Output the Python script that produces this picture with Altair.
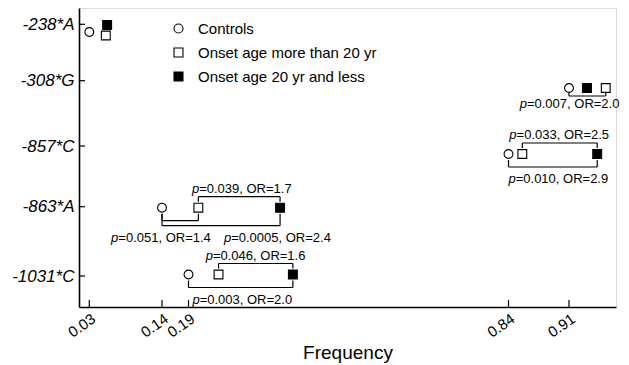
import json
import altair as alt
import pandas as pd

# ---------------- data ----------------
snps = ["-238*A", "-308*G", "-857*C", "-863*A", "-1031*C"]
groups = ["Controls", "Onset age more than 20 yr", "Onset age 20 yr and less"]

controls = [0.03, 0.91, 0.84, 0.14, 0.19]
onset_over20 = [0.055, 0.953, 0.856, 0.21, 0.251]
onset_under20 = [0.057, 0.931, 0.943, 0.376, 0.402]

tick_values = [0.03, 0.14, 0.19, 0.84, 0.91]

# pairwise comparisons drawn as brackets
cmp_snp = ["-308*G", "-857*C", "-857*C", "-863*A", "-863*A", "-863*A", "-1031*C", "-1031*C"]
cmp_from = ["Controls", "Onset age more than 20 yr", "Controls",
            "Onset age more than 20 yr", "Controls", "Controls",
            "Onset age more than 20 yr", "Controls"]
cmp_to = ["Onset age more than 20 yr", "Onset age 20 yr and less", "Onset age 20 yr and less",
          "Onset age 20 yr and less", "Onset age more than 20 yr", "Onset age 20 yr and less",
          "Onset age 20 yr and less", "Onset age 20 yr and less"]
cmp_p = ["0.007", "0.033", "0.010", "0.039", "0.051", "0.0005", "0.046", "0.003"]
cmp_or = ["2.0", "2.5", "2.9", "1.7", "1.4", "2.4", "1.6", "2.0"]
cmp_side = ["near", "above", "below", "above", "below", "below2", "above", "below"]
cmp_label_side = ["near", "above", "below", "above", "below2", "below2", "above", "below"]
cmp_label_at = [0.853, 0.841, 0.84, 0.197, 0.063, 0.262, 0.225, 0.198]

# ---------------- tables ----------------
freqs = {groups[0]: controls, groups[1]: onset_over20, groups[2]: onset_under20}
points = pd.DataFrame(
    [{"row": i, "group": g, "freq": freqs[g][i]} for i, s in enumerate(snps) for g in groups]
)

def f_of(snp, g):
    return freqs[g][snps.index(snp)]

brackets = pd.DataFrame({
    "row": [snps.index(s) for s in cmp_snp],
    "a": [f_of(s, g) for s, g in zip(cmp_snp, cmp_from)],
    "b": [f_of(s, g) for s, g in zip(cmp_snp, cmp_to)],
    "side": cmp_side,
})
ends = pd.concat([
    brackets[["row", "a", "side"]].rename(columns={"a": "end"}),
    brackets[["row", "b", "side"]].rename(columns={"b": "end"}),
])
labels = pd.DataFrame({
    "row": [snps.index(s) for s in cmp_snp],
    "rest": ["=" + p + ", OR=" + o for p, o in zip(cmp_p, cmp_or)],
    "at": cmp_label_at,
    "side": cmp_label_side,
})
ticks_df = pd.DataFrame({"v": tick_values})
rows_df = pd.DataFrame({"row": list(range(len(snps)))})

# ---------------- scales / axes ----------------
W, H = 537, 299
FONT = "Liberation Sans"

x_scale = alt.Scale(domain=[0.0, 0.03, 0.14, 0.19, 0.84, 0.91, 0.965],
                    range=[0, 10.3, 83, 109.5, 429.5, 490, 537], nice=False, zero=False)
y_scale = alt.Scale(domain=[-0.4, 0, 1, 2, 3, 4, 4.5],
                    range=[0, 22, 80, 146, 199.7, 266.5, 299], nice=False, zero=False)

x_axis = alt.Axis(values=tick_values, format=".2f", title="Frequency", grid=False,
                  ticks=False, labelAngle=-35, labelAlign="right", labelBaseline="top",
                  labelFontSize=15, labelPadding=4, labelOverlap=False, labelFont=FONT,
                  labelColor="black", titleFont=FONT, titleFontSize=19,
                  titleFontWeight="normal", titleColor="black", titleY=45,
                  titleBaseline="middle",
                  domainColor="black", domainWidth=1.6)
# the row labels / ticks sit a little off the marker rows in the original drawing
label_shift = [-5.7, -7.3, -8, -1, 1.5]
y_axis = alt.Axis(title=None, grid=False, ticks=False, labelFontSize=17,
                  values=list(range(len(snps))),
                  labelExpr=json.dumps(snps) + "[datum.value]",
                  labelOffset={"condition": [{"test": "datum.value == %d" % i, "value": v}
                                             for i, v in enumerate(label_shift)],
                               "value": 0},
                  labelFontStyle="italic", labelFont=FONT, labelColor="black",
                  labelPadding=5, domainColor="black", domainWidth=1.6)

def X(field):
    return alt.X(field, type="quantitative", scale=x_scale, axis=x_axis, title="Frequency")

def Y(field="row"):
    return alt.Y(field, type="quantitative", scale=y_scale, axis=y_axis, title=None)

legend = alt.Legend(orient="none", legendX=92, legendY=13, title=None, padding=0,
                    labelFontSize=15, labelFont=FONT, labelColor="black", labelLimit=400,
                    symbolSize=80, symbolStrokeColor="black", symbolStrokeWidth=1.1,
                    rowPadding=8, labelOffset=12)
shape_enc = alt.Shape("group:N", scale=alt.Scale(domain=groups, range=["circle", "square", "square"]),
                      legend=legend)
fill_enc = alt.Fill("group:N", scale=alt.Scale(domain=groups, range=["white", "white", "black"]),
                    legend=legend)
stroke_enc = alt.Stroke("group:N", scale=alt.Scale(domain=groups, range=["black", "black", "black"]),
                        legend=legend)

# ---------------- layers ----------------
layers = []

# inward ticks
layers.append(alt.Chart(ticks_df).mark_rule(color="black", strokeWidth=1.2).encode(
    x=X("v"), y=alt.value(H), y2=alt.value(H - 7)))
for i, sh in enumerate(label_shift):
    layers.append(alt.Chart(rows_df).transform_filter(alt.datum.row == i)
                  .mark_rule(color="black", strokeWidth=1.2, yOffset=sh, y2Offset=sh)
                  .encode(y=Y(), y2="row", x=alt.value(0), x2=alt.value(6)))

# brackets
bracket_off = {"above": (-11, -6), "below": (13, 6), "below2": (18, 6), "near": (8, 5)}
text_off = {"above": -19, "below": 25, "below2": 30, "near": 16}
for side, (lvl, start) in bracket_off.items():
    layers.append(alt.Chart(brackets).transform_filter(alt.datum.side == side)
                  .mark_rule(color="black", strokeWidth=1.2, yOffset=lvl)
                  .encode(x=X("a"), x2="b", y=Y()))
    layers.append(alt.Chart(ends).transform_filter(alt.datum.side == side)
                  .mark_rule(color="black", strokeWidth=1.2, yOffset=start, y2Offset=lvl)
                  .encode(x=X("end"), y=Y(), y2="row"))
for side, off in text_off.items():
    sub = alt.Chart(labels).transform_filter(alt.datum.side == side)
    layers.append(sub.mark_text(text="p", font=FONT, fontSize=13, fontStyle="italic",
                                align="left", baseline="middle", yOffset=off, color="black")
                  .encode(x=X("at"), y=Y()))
    layers.append(sub.mark_text(font=FONT, fontSize=13, align="left", baseline="middle",
                                yOffset=off, dx=7.2, color="black")
                  .encode(x=X("at"), y=Y(), text="rest:N"))

# markers
mark_kw = dict(filled=True, strokeWidth=1.1, size=78, opacity=1)
layers.append(alt.Chart(points).transform_filter(alt.datum.row != 0)
              .mark_point(**mark_kw)
              .encode(x=X("freq"), y=Y(), shape=shape_enc, fill=fill_enc, stroke=stroke_enc))
for g, off in zip(groups, [2, 5.5, -5]):
    layers.append(alt.Chart(points)
                  .transform_filter((alt.datum.row == 0) & (alt.datum.group == g))
                  .mark_point(yOffset=off, **mark_kw)
                  .encode(x=X("freq"), y=Y(), shape=shape_enc, fill=fill_enc, stroke=stroke_enc))

chart = alt.layer(*layers).properties(
    width=W, height=H,
    autosize=alt.AutoSizeParams(type="none"),
    padding={"left": 71, "top": 0, "right": 5, "bottom": 58},
).configure_view(stroke=None).configure(background="white")

chart.save("out.html", embed_options={"renderer": "svg", "actions": False})
